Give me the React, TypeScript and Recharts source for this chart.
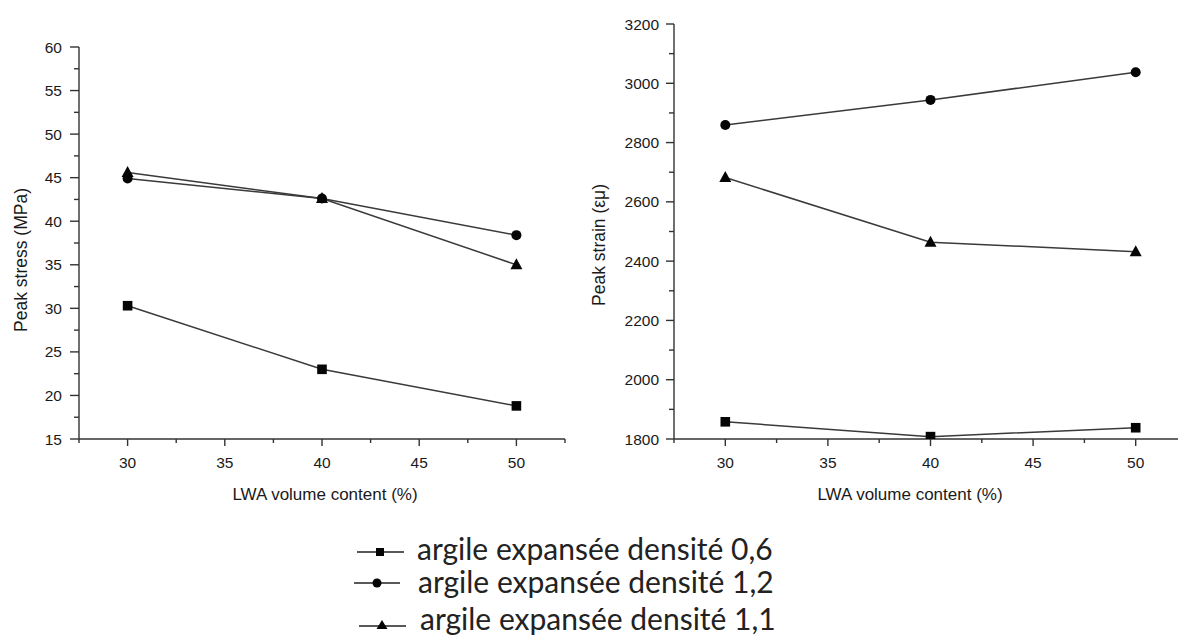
import React from 'react';
import { LineChart, Line, XAxis, YAxis } from 'recharts';

// ---- data ----
const xValues = [30, 40, 50];
const stressD06 = [30.3, 23.0, 18.8];
const stressD12 = [44.9, 42.6, 38.4];
const stressD11 = [45.6, 42.6, 35.0];
const strainD06 = [1858, 1808, 1838];
const strainD12 = [2859, 2944, 3037];
const strainD11 = [2682, 2464, 2432];

const xMajorTicks = [30, 35, 40, 45, 50];
const xAllTicks = [27.5, 30, 32.5, 35, 37.5, 40, 42.5, 45, 47.5, 50, 52.5];
const stressMajorTicks = [15, 20, 25, 30, 35, 40, 45, 50, 55, 60];
const stressAllTicks = [15, 17.5, 20, 22.5, 25, 27.5, 30, 32.5, 35, 37.5, 40, 42.5, 45, 47.5, 50, 52.5, 55, 57.5, 60];
const strainMajorTicks = [1800, 2000, 2200, 2400, 2600, 2800, 3000, 3200];
const strainAllTicks = [1800, 1900, 2000, 2100, 2200, 2300, 2400, 2500, 2600, 2700, 2800, 2900, 3000, 3100, 3200];

const seriesNames = [
  'argile expansée densité 0,6',
  'argile expansée densité 1,2',
  'argile expansée densité 1,1',
];
const xTitle = 'LWA volume content (%)';
const stressTitle = 'Peak stress (MPa)';
const strainTitle = 'Peak strain (εμ)';

const stressData = xValues.map((x, i) => ({ x, d06: stressD06[i], d12: stressD12[i], d11: stressD11[i] }));
const strainData = xValues.map((x, i) => ({ x, d06: strainD06[i], d12: strainD12[i], d11: strainD11[i] }));

const AXIS = '#333';
const LINE = '#3a3a3a';
const MARK = '#050505';
const TXT = '#1a1a1a';
const TICK_FONT = '"Liberation Sans", Arial, sans-serif';

const makeYTick = (majors: number[], majorLen: number, gap: number) => (props: any) => {
  const { x, y, payload } = props;
  const v = payload.value;
  const isMajor = majors.includes(v);
  if (!isMajor) {
    return <line x1={x - 5} x2={x} y1={y} y2={y} stroke={AXIS} strokeWidth={1.4} />;
  }
  return (
    <g>
      <line x1={x - majorLen} x2={x} y1={y} y2={y} stroke={AXIS} strokeWidth={1.4} />
      <text x={x - gap} y={y} textAnchor="end" dominantBaseline="central" fontSize={15.5} fontFamily={TICK_FONT} fill={TXT}>
        {v}
      </text>
    </g>
  );
};

const XTick = (props: any) => {
  const { x, y, payload } = props;
  const v = payload.value;
  const isMajor = xMajorTicks.includes(v);
  if (!isMajor) {
    return <line x1={x} x2={x} y1={y} y2={y + 4} stroke={AXIS} strokeWidth={1.4} />;
  }
  return (
    <g>
      <line x1={x} x2={x} y1={y} y2={y + 7} stroke={AXIS} strokeWidth={1.4} />
      <text x={x} y={y + 23} textAnchor="middle" dominantBaseline="central" fontSize={15.5} fontFamily={TICK_FONT} fill={TXT}>
        {v}
      </text>
    </g>
  );
};

const SquareDot = (props: any) => {
  const { cx, cy } = props;
  if (cx == null || cy == null) return <g />;
  return <rect x={cx - 4.8} y={cy - 4.8} width={9.6} height={9.6} fill={MARK} />;
};
const CircleDot = (props: any) => {
  const { cx, cy } = props;
  if (cx == null || cy == null) return <g />;
  return <circle cx={cx} cy={cy} r={5} fill={MARK} />;
};
const TriDot = (props: any) => {
  const { cx, cy } = props;
  if (cx == null || cy == null) return <g />;
  return <polygon points={`${cx},${cy - 6.5} ${cx + 6},${cy + 4.5} ${cx - 6},${cy + 4.5}`} fill={MARK} />;
};

const renderLines = () => [
  <Line key="d06" type="linear" dataKey="d06" stroke={LINE} strokeWidth={1.5} isAnimationActive={false}
    dot={(p: any) => <SquareDot key={`s${p.index}`} {...p} />} activeDot={false} />,
  <Line key="d12" type="linear" dataKey="d12" stroke={LINE} strokeWidth={1.5} isAnimationActive={false}
    dot={(p: any) => <CircleDot key={`c${p.index}`} {...p} />} activeDot={false} />,
  <Line key="d11" type="linear" dataKey="d11" stroke={LINE} strokeWidth={1.5} isAnimationActive={false}
    dot={(p: any) => <TriDot key={`t${p.index}`} {...p} />} activeDot={false} />,
];

export default function App() {
  return (
    <div style={{ position: 'absolute', left: 0, top: 0, width: 1178, height: 637, overflow: 'hidden', background: '#fff' }}>
      <div style={{ position: 'absolute', left: 0, top: 0 }}>
        <LineChart width={600} height={520} data={stressData} margin={{ top: 47, right: 35, bottom: 0, left: 0 }}>
          <XAxis dataKey="x" type="number" domain={[27.5, 52.5]} ticks={xAllTicks} interval={0}
            tick={XTick} tickSize={0} tickMargin={0} tickLine={false} height={81}
            axisLine={{ stroke: AXIS, strokeWidth: 1.4 }} allowDataOverflow />
          <YAxis type="number" domain={[15, 60]} ticks={stressAllTicks} interval={0}
            tick={makeYTick(stressMajorTicks, 9, 17)} tickSize={0} tickMargin={0} tickLine={false} width={79}
            axisLine={{ stroke: AXIS, strokeWidth: 1.4 }} allowDataOverflow />
          {renderLines()}
        </LineChart>
      </div>
      <div style={{ position: 'absolute', left: 560, top: 0 }}>
        <LineChart width={660} height={520} data={strainData} margin={{ top: 24, right: 33, bottom: 0, left: 0 }}>
          <XAxis dataKey="x" type="number" domain={[27.5, 52.5]} ticks={xAllTicks} interval={0}
            tick={XTick} tickSize={0} tickMargin={0} tickLine={false} height={81}
            axisLine={{ stroke: AXIS, strokeWidth: 1.4 }} allowDataOverflow />
          <YAxis type="number" domain={[1800, 3200]} ticks={strainAllTicks} interval={0}
            tick={makeYTick(strainMajorTicks, 8, 15)} tickSize={0} tickMargin={0} tickLine={false} width={114}
            axisLine={{ stroke: AXIS, strokeWidth: 1.4 }} allowDataOverflow />
          {renderLines()}
        </LineChart>
      </div>
      <svg width={1178} height={637} style={{ position: 'absolute', left: 0, top: 0, pointerEvents: 'none' }}>
        <text x={21} y={260} transform="rotate(-90 21 260)" textAnchor="middle" dominantBaseline="central"
          fontSize={17.5} fontFamily={TICK_FONT} fill={TXT}>{stressTitle}</text>
        <text x={599} y={245} transform="rotate(-90 599 245)" textAnchor="middle" dominantBaseline="central"
          fontSize={17.5} fontFamily={TICK_FONT} fill={TXT}>{strainTitle}</text>
        <text x={325} y={494} textAnchor="middle" dominantBaseline="central" fontSize={17} fontFamily={TICK_FONT} fill={TXT}>{xTitle}</text>
        <text x={910} y={494} textAnchor="middle" dominantBaseline="central" fontSize={17} fontFamily={TICK_FONT} fill={TXT}>{xTitle}</text>

        {/* legend */}
        <line x1={357} x2={404} y1={552} y2={552} stroke="#222" strokeWidth={1.6} />
        <rect x={376} y={548} width={8} height={8} fill={MARK} />
        <text x={417} y={560} fontSize={30} fontFamily="Lato, sans-serif" fill="#222">{seriesNames[0]}</text>

        <line x1={354} x2={400} y1={583} y2={583} stroke="#222" strokeWidth={1.6} />
        <circle cx={377} cy={583} r={4.5} fill={MARK} />
        <text x={418} y={593} fontSize={30} fontFamily="Lato, sans-serif" fill="#222">{seriesNames[1]}</text>

        <line x1={359} x2={406} y1={626} y2={626} stroke="#222" strokeWidth={1.6} />
        <polygon points="382,620 387.5,629 376.5,629" fill={MARK} />
        <text x={420} y={630} fontSize={30} fontFamily="Lato, sans-serif" fill="#222">{seriesNames[2]}</text>
      </svg>
    </div>
  );
}
